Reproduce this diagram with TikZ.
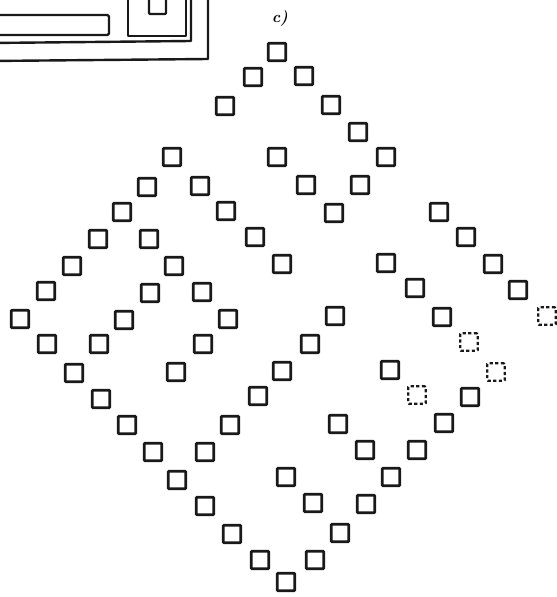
\documentclass[tikz,border=0pt]{standalone}
\begin{document}
\begin{tikzpicture}[x=1bp,y=-1bp,
  cell/.style={draw=black!90,line width=2.6bp,minimum size=17.5bp,inner sep=0pt,rounded corners=0.8bp},
  ghost/.style={cell,line width=2.4bp,dash pattern=on 3.2bp off 2.4bp},
  frameline/.style={draw=black!90,line width=2.4bp,line join=round,line cap=round}]
\useasboundingbox (0,0) rectangle (557,597);
\clip (0,0) rectangle (557,597);
% top-left fragment of the previous figure
\draw[frameline,rounded corners=1.5bp] (-10,15) -- (109,15) -- (109,35) -- (-10,35);
\draw[frameline] (128,-10) -- (128,36) -- (186,36) -- (186,-10);
\draw[frameline,rounded corners=1bp] (149,-10) -- (149,14) -- (166,14) -- (166,-10);
\draw[frameline] (-10,43) -- (191,41) -- (191,-10);
\draw[frameline] (-10,61) -- (208,59) -- (208,-10);
% label
\node[font=\bfseries\itshape,inner sep=0pt,transform shape=false,scale=1.6] (lab) at (280,19) {c)};
% solid squares
\foreach \x/\y [count=\i] in {
 277/52, 253/77, 304/76, 225/106, 331/105, 358/132,
 172/157, 277/157, 386/157, 147/187, 200/186, 306/185, 360/185,
 122/212, 226/211, 334/213, 439/212, 98/239, 149/239, 255/237, 466/237,
 72/266, 174/266, 282/264, 386/263, 493/264,
 46/291, 150/293, 202/292, 415/288, 518/290,
 20/319, 124/320, 228/319, 335/316, 442/317,
 47/344, 99/344, 203/344, 310/344,
 74/373, 176/372, 282/371, 390/370,
 101/399, 258/396, 470/397,
 127/425, 230/425, 338/424, 444/423,
 153/452, 205/452, 365/450, 417/450,
 177/480, 286/477, 391/477,
 205/506, 313/503, 366/504,
 232/534, 340/533, 260/560, 315/560, 286/582}
 \node[cell] (s\i) at (\x,\y) {};
% dashed squares
\foreach \x/\y [count=\i] in {547/316, 469/342, 496/372, 417/395}
 \node[ghost] (d\i) at (\x,\y) {};
\end{tikzpicture}
\end{document}
